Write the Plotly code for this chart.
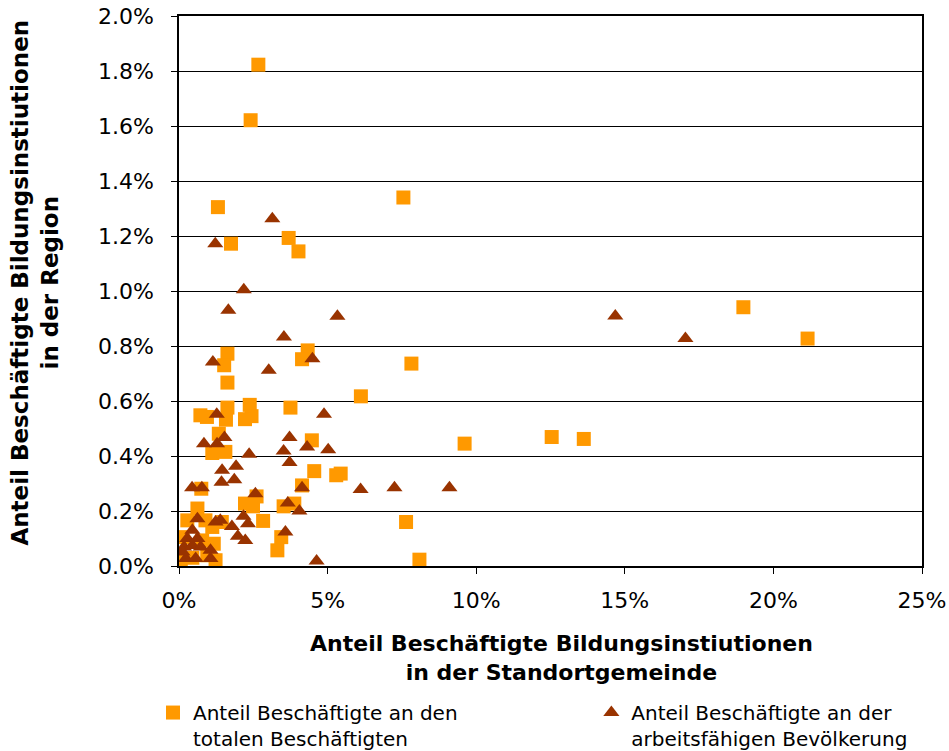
import plotly.graph_objects as go

# Series 1: Anteil Beschäftigte an den totalen Beschäftigten (x %, y %)
sq_x = [2.67, 2.41, 7.55, 1.31, 1.75, 3.69, 4.02, 18.99, 21.15, 4.33, 4.14, 1.63, 1.52,
        7.82, 1.63, 6.12, 0.72, 0.94, 1.63, 1.58, 2.38, 2.44, 2.22, 3.75, 4.47, 1.34,
        1.12, 1.56, 4.55, 5.29, 5.44, 4.14, 9.61, 12.54, 13.62, 0.75, 2.61, 2.22, 2.49,
        3.52, 3.88, 7.64, 2.83, 3.44, 3.31, 8.09, 0.62, 0.28, 0.89, 1.12, 1.17, 0.12,
        0.06, 1.23, 0.45, 0.95, 0.78, 1.44]
sq_y = [1.823, 1.621, 1.340, 1.305, 1.172, 1.193, 1.144, 0.941, 0.827, 0.784, 0.752, 0.772, 0.730,
        0.736, 0.667, 0.617, 0.548, 0.542, 0.576, 0.532, 0.586, 0.545, 0.534, 0.576, 0.457, 0.481,
        0.411, 0.415, 0.345, 0.330, 0.336, 0.293, 0.445, 0.469, 0.462, 0.281, 0.253, 0.227, 0.217,
        0.217, 0.227, 0.160, 0.164, 0.105, 0.057, 0.023, 0.209, 0.166, 0.166, 0.142, 0.081, 0.105,
        0.021, 0.021, 0.030, 0.039, 0.093, 0.160]

# Series 2: Anteil Beschäftigte an der arbeitsfähigen Bevölkerung (x %, y %)
tr_x = [3.14, 1.22, 2.18, 1.66, 5.33, 3.53, 14.68, 17.04, 1.14, 4.49, 3.02, 1.27, 4.88,
        0.84, 1.28, 1.53, 2.36, 3.72, 3.52, 4.31, 5.02, 3.72, 1.45, 1.92, 1.43, 1.86,
        4.14, 6.11, 7.25, 9.10, 0.44, 0.77, 2.57, 3.66, 4.05, 3.58, 4.63, 0.62, 1.23,
        1.39, 1.78, 2.17, 2.32, 1.98, 2.23, 0.45, 0.28, 0.62, 0.17, 0.45, 0.73, 1.06,
        0.23, 0.56, 1.06, 0.12]
tr_y = [1.263, 1.172, 1.005, 0.930, 0.908, 0.833, 0.909, 0.827, 0.742, 0.754, 0.712, 0.552, 0.552,
        0.445, 0.445, 0.467, 0.406, 0.467, 0.418, 0.433, 0.423, 0.376, 0.348, 0.363, 0.305, 0.314,
        0.285, 0.278, 0.285, 0.285, 0.285, 0.285, 0.263, 0.229, 0.200, 0.124, 0.018, 0.172, 0.160,
        0.166, 0.144, 0.181, 0.154, 0.108, 0.093, 0.130, 0.100, 0.100, 0.069, 0.075, 0.069, 0.057,
        0.027, 0.027, 0.027, 0.051]

x_tickvals = [0, 5, 10, 15, 20, 25]
x_ticktext = ["0%", "5%", "10%", "15%", "20%", "25%"]
y_tickvals = [0, 0.2, 0.4, 0.6, 0.8, 1.0, 1.2, 1.4, 1.6, 1.8, 2.0]
y_ticktext = ["0.0%", "0.2%", "0.4%", "0.6%", "0.8%", "1.0%", "1.2%", "1.4%", "1.6%", "1.8%", "2.0%"]

name_sq = "Anteil Beschäftigte an den<br>totalen Beschäftigten"
name_tr = "Anteil Beschäftigte an der<br>arbeitsfähigen Bevölkerung"
x_title = "Anteil Beschäftigte Bildungsinstiutionen<br>in der Standortgemeinde"
y_title = "Anteil Beschäftigte Bildungsinstiutionen<br>in der Region"

FONT = "DejaVu Sans"

fig = go.Figure()
fig.add_trace(go.Scatter(x=sq_x, y=sq_y, mode="markers", name=name_sq, legend="legend",
                         marker=dict(symbol="square", size=14, color="#FF9900")))
fig.add_trace(go.Scatter(x=tr_x, y=tr_y, mode="markers", name=name_tr, legend="legend2",
                         marker=dict(symbol="triangle-up", size=14, color="#993300")))

leg_common = dict(orientation="v", xanchor="left", yanchor="top", valign="top",
                  font=dict(family=FONT, size=20), bgcolor="rgba(0,0,0,0)")

fig.update_layout(
    width=949, height=751,
    margin=dict(l=179, r=27, t=16, b=185, autoexpand=False),
    paper_bgcolor="white", plot_bgcolor="white",
    font=dict(family=FONT, size=20, color="black"),
    showlegend=True,
    legend=dict(x=-0.035, y=-0.231, **leg_common),
    legend2=dict(x=0.555, y=-0.231, **leg_common),
    xaxis=dict(range=[0, 25], tickmode="array", tickvals=x_tickvals, ticktext=x_ticktext,
               showgrid=False, zeroline=False, showline=True, linecolor="black",
               linewidth=1.5, mirror=True, ticks="outside", ticklen=6, automargin=False,
               tickcolor="black", tickfont=dict(size=22), ticklabelstandoff=8),
    yaxis=dict(range=[0, 2.0], tickmode="array", tickvals=y_tickvals, ticktext=y_ticktext,
               showgrid=True, gridcolor="black", gridwidth=1.3, zeroline=False,
               showline=True, linecolor="black", linewidth=1.5, mirror=True, automargin=False,
               ticks="outside", ticklen=6, tickcolor="black", tickfont=dict(size=22),
               ticklabelstandoff=13),
    annotations=[
        dict(text=x_title, xref="paper", yref="paper", x=0.515, y=-0.115,
             xanchor="center", yanchor="top", showarrow=False,
             font=dict(family=FONT, size=22, color="black", weight="bold")),
        dict(text=y_title, xref="paper", yref="paper", x=-0.194, y=0.515,
             xanchor="center", yanchor="middle", textangle=-90, showarrow=False,
             font=dict(family=FONT, size=23, color="black", weight="bold")),
    ],
)

fig.write_html("out.html", config={"displayModeBar": False},
               post_script="document.body.style.margin='0px';")
